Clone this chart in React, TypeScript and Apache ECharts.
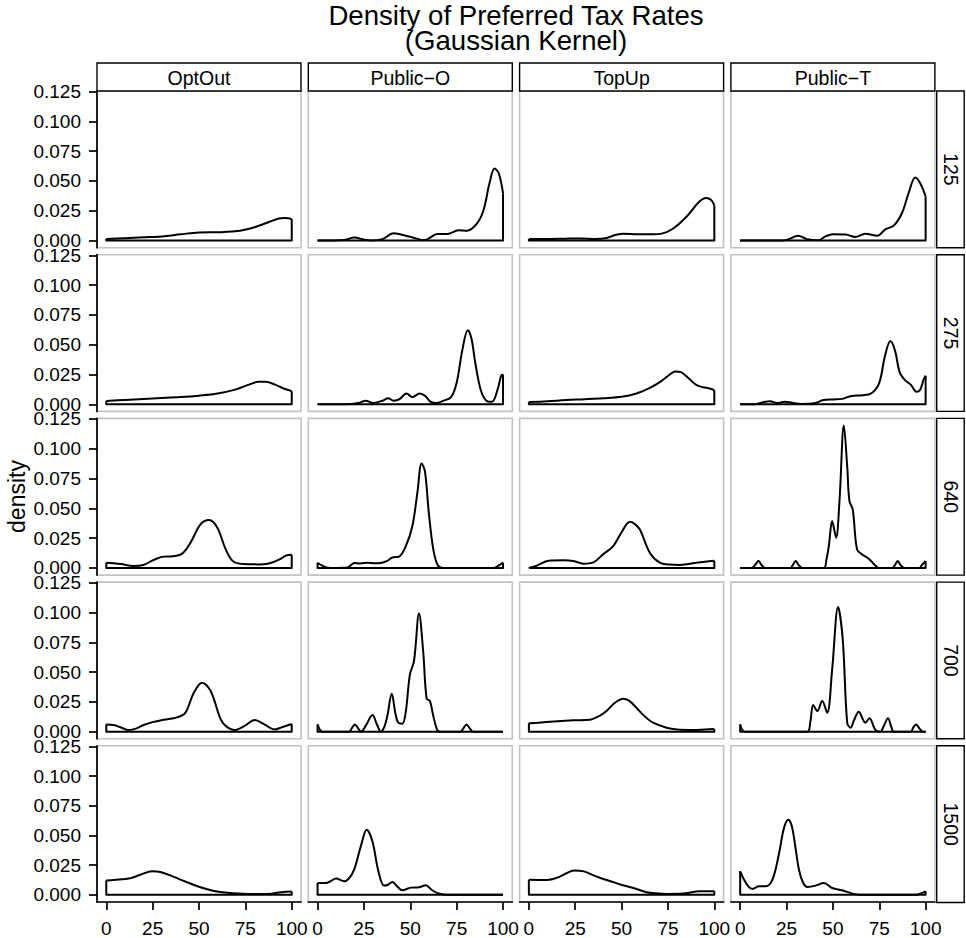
import React, { useEffect, useRef } from "react";
import * as echarts from "echarts";

type Pt = [number, number];

const colLabels = ["OptOut", "Public\u2212O", "TopUp", "Public\u2212T"];
const rowLabels = ["125", "275", "640", "700", "1500"];
const xTicks = [0, 25, 50, 75, 100];
const yTicks = [0, 0.025, 0.05, 0.075, 0.1, 0.125];

// Row 125
const optOut125: Pt[] = [[0,0.0013],[10,0.002],[20,0.0027],[30,0.0035],[40,0.0052],[50,0.0068],[60,0.007],[68,0.0075],[76,0.0095],[83,0.0128],[88,0.0158],[93,0.0185],[96,0.019],[98,0.0187],[100,0.018]];
const publicO125: Pt[] = [[0,0],[8,0],[14,0.0004],[20,0.0025],[25,0.0008],[29,0.0001],[35,0.0012],[41,0.0061],[48,0.0039],[53,0.0018],[57,0.0003],[60,0.0018],[64.5,0.0055],[70,0.0055],[76,0.0086],[80.5,0.0083],[86,0.0145],[89.5,0.0257],[92.7,0.048],[95.4,0.0604],[97.7,0.0565],[100,0.0397]];
const topUp125: Pt[] = [[0,0.0012],[10,0.0012],[20,0.0016],[28,0.0018],[36,0.0013],[42,0.0022],[47,0.0048],[51,0.0058],[58,0.0053],[65,0.0052],[71,0.0056],[78,0.0103],[85,0.02],[92,0.0327],[95.6,0.0357],[98.3,0.034],[100,0.0296]];
const publicT125: Pt[] = [[0,0],[20,0],[25,0.0005],[31.3,0.0041],[36,0.0012],[42,0.0002],[46,0.0035],[50,0.0053],[57,0.005],[62,0.003],[67.5,0.0058],[74,0.0041],[78.3,0.0094],[82.8,0.0125],[87.2,0.0229],[90.8,0.0397],[94.4,0.053],[97.1,0.048],[100,0.037]];

// Row 275
const optOut275: Pt[] = [[0,0.0028],[10,0.0036],[20,0.0045],[30,0.0052],[40,0.006],[50,0.0072],[60,0.009],[70,0.0125],[77,0.0165],[82,0.0188],[86,0.0188],[91,0.0165],[96,0.013],[100,0.011]];
const publicO275: Pt[] = [[0,0],[15,0],[22,0.001],[26,0.003],[30,0.001],[35,0.003],[38,0.005],[41,0.003],[44,0.004],[48,0.009],[51,0.006],[55,0.009],[58,0.007],[61,0.002],[64,0.001],[68,0.003],[72,0.006],[75,0.018],[78,0.045],[81,0.062],[83,0.055],[85,0.035],[88,0.012],[91,0.003],[94,0.002],[97,0.012],[99,0.024],[100,0.025]];
const topUp275: Pt[] = [[0,0.0018],[10,0.0025],[20,0.0035],[30,0.0042],[40,0.005],[50,0.0062],[58,0.009],[65,0.0135],[71,0.019],[76,0.025],[79,0.0275],[82,0.027],[86,0.022],[90,0.0165],[94,0.0142],[97,0.0135],[100,0.0118]];
const publicT275: Pt[] = [[0,0],[8,0],[12,0.0015],[16,0.0025],[20,0.001],[24,0.0022],[28,0.0012],[33,0.0003],[40,0.0008],[45,0.0035],[50,0.004],[55,0.0045],[60,0.007],[66,0.0075],[71,0.0095],[75,0.018],[78,0.04],[81,0.053],[83.5,0.045],[86,0.027],[89,0.02],[92,0.0165],[95,0.0105],[97,0.012],[99,0.021],[100,0.024]];

// Row 640
const optOut640: Pt[] = [[0,0.0044],[4,0.004],[8,0.0033],[14.7,0.0016],[20,0.0025],[25.5,0.0067],[31,0.0095],[36,0.0098],[40.9,0.012],[45.4,0.0212],[50.8,0.0366],[55.4,0.0402],[59.9,0.0338],[64.4,0.0156],[68.9,0.005],[76,0.0032],[82,0.003],[87,0.0035],[91,0.0055],[94.2,0.0078],[97,0.0105],[100,0.011]];
const publicO640: Pt[] = [[0,0.0044],[2.5,0.002],[5.4,0.0002],[10,0],[16,0.0003],[19.8,0.0042],[23,0.0038],[27,0.0044],[31,0.004],[34,0.0042],[37.6,0.006],[40.3,0.0088],[43.9,0.0095],[47.5,0.018],[51.1,0.035],[53.8,0.063],[56.1,0.0877],[57.9,0.081],[60,0.046],[62.4,0.0156],[64.9,0.002],[68,0],[95,0],[97.5,0.002],[100,0.0044]];
const topUp640: Pt[] = [[0,0],[4.4,0.002],[10.6,0.006],[18.6,0.0064],[24,0.0058],[29.4,0.0036],[34.8,0.0047],[40,0.0114],[45.5,0.0184],[50,0.03],[54.5,0.0388],[57,0.037],[59.8,0.0324],[65.2,0.0128],[70.6,0.0044],[76,0.0028],[81.3,0.0025],[86,0.0033],[90.3,0.0044],[95,0.0053],[100,0.006]];
const publicT640: Pt[] = [[0,0],[6,0],[8,0.0025],[9.9,0.0058],[11.5,0.0025],[13.5,0],[27,0],[28.4,0.0025],[29.9,0.0058],[31.5,0.0025],[33.5,0],[45.1,0],[46.5,0.007],[47.8,0.0184],[49.6,0.0394],[51,0.03],[51.8,0.0254],[53.6,0.0576],[55.9,0.1196],[57.7,0.0855],[58.9,0.0562],[60.7,0.0492],[63,0.0156],[65.7,0.0114],[69.3,0.0078],[72.9,0.002],[74.7,0],[82,0],[83.5,0.0025],[84.9,0.0058],[86.5,0.0025],[88.5,0],[96.5,0],[98,0.0025],[100,0.0058]];

// Row 700
const optOut700: Pt[] = [[0,0.0061],[3.9,0.0056],[8,0.0035],[12,0.0014],[16,0.0025],[20.1,0.0056],[25,0.008],[31,0.01],[38.2,0.012],[42.7,0.016],[47.2,0.0327],[51.7,0.0411],[56.3,0.0341],[61.7,0.0103],[65,0.004],[68.9,0.0014],[74.4,0.0047],[80.1,0.0098],[85.2,0.0061],[90.6,0.0019],[95.1,0.0039],[100,0.0064]];
const publicO700: Pt[] = [[0,0.0061],[2.7,0],[17,0],[18.5,0.003],[20.1,0.0061],[21.8,0.003],[23.4,0],[26,0.005],[29.6,0.014],[32,0.006],[34.1,0],[36,0.004],[37.6,0.0131],[40,0.0318],[42,0.015],[43.5,0.0075],[45.7,0.0067],[47.5,0.0159],[49.8,0.0481],[52,0.0593],[54.7,0.0992],[57,0.0662],[58.8,0.0277],[60.6,0.0257],[62.4,0.0131],[64.5,0.0014],[66,0],[77,0],[78.7,0.003],[80.3,0.0061],[82,0.003],[83.8,0],[100,0]];
const topUp700: Pt[] = [[0,0.007],[11.5,0.0084],[24,0.0095],[33,0.01],[38.4,0.0135],[42,0.0175],[46.4,0.0243],[50.9,0.0277],[54,0.026],[58,0.0201],[62,0.0135],[67,0.0075],[74.2,0.0033],[80,0.0018],[88.5,0.0014],[95,0.0018],[100,0.0022]];
const publicT700: Pt[] = [[0,0.0061],[2.5,0],[36.2,0],[37.8,0.008],[39.4,0.0223],[41.6,0.0173],[44.2,0.0257],[46.9,0.0159],[49.6,0.0523],[52.8,0.1045],[55.3,0.0774],[57.7,0.0075],[59.5,0.0033],[61.5,0.01],[63.9,0.0168],[67.5,0.0075],[69.7,0.0112],[72.9,0.0014],[75.6,0],[77.5,0.005],[79.7,0.0112],[81.5,0.004],[82.8,0],[92,0],[93.5,0.004],[94.9,0.0061],[96.5,0.003],[98.5,0],[100,0]];

// Row 1500
const optOut1500: Pt[] = [[0,0.012],[3.9,0.0126],[12.9,0.014],[18.4,0.017],[24.7,0.0198],[29.2,0.0193],[36.4,0.0151],[43.6,0.0106],[50.8,0.0064],[58.1,0.0033],[65.3,0.0017],[76.1,0.0008],[87,0.0008],[94.2,0.0022],[100,0.0028]];
const publicO1500: Pt[] = [[0,0.01],[4.5,0.01],[7,0.0115],[9.9,0.0137],[14.4,0.0114],[17,0.014],[19.7,0.0212],[23.3,0.0408],[26.5,0.0548],[29.6,0.045],[32.6,0.0212],[35.8,0.0078],[38,0.0085],[40.3,0.0109],[43,0.007],[45.7,0.0039],[50.2,0.0061],[54.7,0.0064],[58.2,0.0081],[61.8,0.0039],[65.4,0.0011],[69.9,0],[100,0]];
const topUp1500: Pt[] = [[0,0.0128],[9.9,0.0126],[15.3,0.0145],[20,0.018],[24.3,0.0205],[29.7,0.0198],[34,0.017],[38.6,0.0142],[44,0.0115],[49.3,0.0088],[56.4,0.0058],[63.5,0.0022],[70,0.0011],[74.2,0.0008],[83.2,0.0011],[92.1,0.003],[100,0.003]];
const publicT1500: Pt[] = [[0,0.0198],[2.1,0.0128],[4.5,0.007],[6.6,0.005],[10.2,0.0072],[13.8,0.0072],[17.4,0.0128],[21,0.0352],[23.6,0.0562],[26,0.0632],[28.1,0.0562],[31.7,0.0212],[34,0.01],[36.2,0.0067],[40.7,0.0078],[45.1,0.01],[49.6,0.0058],[55,0.0039],[61.3,0.0008],[67.5,0],[94.4,0],[97,0.001],[100,0.003]];

const panels: Pt[][][] = [
  [optOut125, publicO125, topUp125, publicT125],
  [optOut275, publicO275, topUp275, publicT275],
  [optOut640, publicO640, topUp640, publicT640],
  [optOut700, publicO700, topUp700, publicT700],
  [optOut1500, publicO1500, topUp1500, publicT1500],
];

const FONT = "'Liberation Sans', Arial, Helvetica, sans-serif";

export default function App() {
  const ref = useRef<HTMLDivElement>(null);
  useEffect(() => {
    document.body.style.margin = "0";
    if (!ref.current) return;
    const chart = echarts.init(ref.current, undefined, { renderer: "svg" });

    const left0 = 97;
    const colStep = 211.3;
    const pw = 204;
    const top0 = 91;
    const rowStep = 163.7;
    const ph = 156.7;

    const grids: any[] = [];
    const xAxes: any[] = [];
    const yAxes: any[] = [];
    const series: any[] = [];
    const graphics: any[] = [];

    for (let r = 0; r < 5; r++) {
      for (let c = 0; c < 4; c++) {
        const i = r * 4 + c;
        const left = left0 + c * colStep;
        const top = top0 + r * rowStep;
        grids.push({
          left, top, width: pw, height: ph,
          show: true, borderColor: "#c2c2c2", borderWidth: 1.6,
          backgroundColor: "#fff", containLabel: false,
        });
        const bottomRow = r === 4;
        xAxes.push({
          type: "value", gridIndex: i, min: -5, max: 105,
          splitLine: { show: false },
          axisLine: { show: bottomRow, onZero: false, lineStyle: { color: "#000", width: 1.7 } },
          axisTick: { show: bottomRow, length: 8, customValues: xTicks, lineStyle: { color: "#000", width: 1.7 } },
          axisLabel: {
            show: bottomRow, customValues: xTicks, margin: 17,
            fontSize: 19, color: "#000", fontFamily: FONT,
          },
        });
        const leftCol = c === 0;
        yAxes.push({
          type: "value", gridIndex: i, min: -0.006, max: 0.1255,
          splitLine: { show: false },
          axisLine: { show: leftCol, onZero: false, lineStyle: { color: "#000", width: 1.7 } },
          axisTick: { show: leftCol, length: 8, customValues: yTicks, lineStyle: { color: "#000", width: 1.7 } },
          axisLabel: {
            show: leftCol, customValues: yTicks, margin: 16,
            fontSize: 19, color: "#000", fontFamily: FONT,
            formatter: (v: number) => v.toFixed(3),
          },
        });
        const d = panels[r][c];
        const first = d[0];
        const last = d[d.length - 1];
        series.push({
          type: "line", xAxisIndex: i, yAxisIndex: i, data: d,
          smooth: 0.35, symbol: "none", silent: true,
          lineStyle: { color: "#000", width: 2, join: "round" },
        });
        series.push({
          type: "line", xAxisIndex: i, yAxisIndex: i,
          data: [[first[0], first[1]], [first[0], 0], [last[0], 0], [last[0], last[1]]],
          smooth: false, symbol: "none", silent: true,
          lineStyle: { color: "#000", width: 2, join: "round" },
        });
      }
    }

    // top strips
    for (let c = 0; c < 4; c++) {
      const left = left0 + c * colStep;
      graphics.push({
        type: "rect", shape: { x: left, y: 63, width: pw, height: 28 },
        style: { fill: "#fff", stroke: "#000", lineWidth: 1.4 }, z: 10,
      });
      graphics.push({
        type: "text", x: left + pw / 2, y: 77.5, z: 11,
        style: { text: colLabels[c], fontSize: 19.5, fontFamily: FONT, fill: "#000", textAlign: "center", textVerticalAlign: "middle" },
      });
    }
    // right strips
    for (let r = 0; r < 5; r++) {
      const top = top0 + r * rowStep;
      graphics.push({
        type: "rect", shape: { x: 936.7, y: top, width: 27.5, height: ph },
        style: { fill: "#fff", stroke: "#000", lineWidth: 1.4 }, z: 10,
      });
      graphics.push({
        type: "text", x: 950.5, y: top + ph / 2, rotation: -Math.PI / 2, z: 11,
        style: { text: rowLabels[r], fontSize: 19.5, fontFamily: FONT, fill: "#000", textAlign: "center", textVerticalAlign: "middle" },
      });
    }
    // title
    graphics.push({
      type: "text", x: 516, y: 15.5, z: 11,
      style: { text: "Density of Preferred Tax Rates", fontSize: 27.6, fontFamily: FONT, fill: "#000", textAlign: "center", textVerticalAlign: "middle" },
    });
    graphics.push({
      type: "text", x: 516, y: 40.5, z: 11,
      style: { text: "(Gaussian Kernel)", fontSize: 27.6, fontFamily: FONT, fill: "#000", textAlign: "center", textVerticalAlign: "middle" },
    });
    // y axis title
    graphics.push({
      type: "text", x: 17, y: 496.5, rotation: Math.PI / 2, z: 11,
      style: { text: "density", fontSize: 23, fontFamily: FONT, fill: "#000", textAlign: "center", textVerticalAlign: "middle" },
    });

    chart.setOption({
      animation: false,
      backgroundColor: "#fff",
      grid: grids,
      xAxis: xAxes,
      yAxis: yAxes,
      series,
      graphic: graphics,
    });
    return () => chart.dispose();
  }, []);
  return <div ref={ref} style={{ width: 966, height: 938 }} />;
}
